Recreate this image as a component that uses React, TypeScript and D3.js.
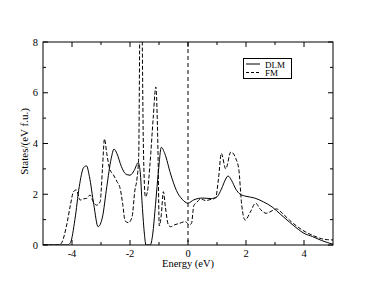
import React from "react";
import * as d3 from "d3";

// DLM density of states (solid)
const dlmEnergy = [-5, -4.15, -4.05, -3.9, -3.75, -3.6, -3.5, -3.4, -3.25, -3.1, -2.95, -2.8, -2.65, -2.55, -2.45, -2.3, -2.15, -2.0, -1.85, -1.72, -1.65, -1.58, -1.5, -1.45, -1.3, -1.22, -1.12, -1.02, -0.92, -0.8, -0.6, -0.4, -0.2, 0, 0.2, 0.5, 0.8, 1.0, 1.15, 1.3, 1.38, 1.5, 1.65, 1.8, 2.0, 2.3, 2.6, 2.9, 3.2, 3.5, 3.8, 4.0, 4.3, 4.6, 5.0];
const dlmStates = [0, 0, 0.1, 1.0, 2.3, 3.05, 3.12, 2.7, 1.6, 0.72, 1.1, 2.3, 3.4, 3.78, 3.6, 3.1, 2.8, 2.75, 2.95, 3.24, 2.9, 1.6, 0.4, 0, 0, 0.4, 1.6, 2.9, 3.85, 3.6, 2.8, 2.15, 1.8, 1.65, 1.78, 1.85, 1.83, 1.9, 2.2, 2.6, 2.72, 2.55, 2.2, 2.0, 1.92, 1.85, 1.7, 1.5, 1.2, 0.9, 0.62, 0.46, 0.33, 0.18, 0.03];

// FM density of states (dashed)
const fmEnergy = [-5, -4.45, -4.35, -4.2, -4.05, -3.95, -3.85, -3.72, -3.6, -3.49, -3.38, -3.27, -3.15, -3.03, -2.95, -2.88, -2.8, -2.7, -2.57, -2.45, -2.34, -2.25, -2.17, -2.05, -1.93, -1.83, -1.76, -1.7, -1.65, -1.6, -1.54, -1.47, -1.4, -1.31, -1.2, -1.11, -1.04, -0.99, -0.92, -0.85, -0.78, -0.68, -0.6, -0.45, -0.3, -0.1, 0.05, 0.12, 0.2, 0.3, 0.45, 0.6, 0.8, 0.95, 1.05, 1.15, 1.3, 1.48, 1.65, 1.75, 1.85, 1.97, 2.15, 2.33, 2.5, 2.7, 2.9, 3.05, 3.3, 3.5, 3.8, 4.0, 4.3, 4.6, 4.8, 5.0];
const fmStates = [0, 0, 0.1, 0.7, 1.6, 2.1, 2.17, 1.77, 1.82, 1.84, 1.97, 1.71, 1.57, 1.7, 3.0, 4.18, 3.6, 3.0, 2.76, 2.5, 2.23, 1.6, 0.95, 0.88, 1.1, 2.17, 2.6, 3.5, 9.5, 9.5, 4.0, 1.9, 2.1, 3.2, 5.0, 6.23, 4.0, 0.75, 1.2, 2.1, 1.5, 0.8, 0.72, 0.8, 0.85, 0.92, 0.8, 0.85, 1.55, 1.68, 1.82, 1.75, 1.8, 1.85, 2.6, 3.61, 3.0, 3.67, 3.4, 3.0, 1.6, 0.98, 1.3, 1.65, 1.4, 1.25, 1.35, 1.42, 1.2, 0.98, 0.7, 0.55, 0.38, 0.25, 0.21, 0.2];

const xMajor = [-4, -2, 0, 2, 4];
const xMinor = [-3, -1, 1, 3];
const yMajor = [0, 2, 4, 6, 8];
const yMinor = [1, 3, 5, 7];

const W = 374;
const H = 289;
const left = 43, right = 333, top = 42, bottom = 245;
const font = "'Liberation Serif', 'Times New Roman', serif";

export default function App() {
  const x = d3.scaleLinear().domain([-5, 5]).range([left, right]);
  const y = d3.scaleLinear().domain([0, 8]).range([bottom, top]);

  const line = d3
    .line<[number, number]>()
    .x((d) => x(d[0]))
    .y((d) => y(d[1]))
    .curve(d3.curveMonotoneX);

  const dlm = dlmEnergy.map((e, i) => [e, dlmStates[i]] as [number, number]);
  const fm = fmEnergy.map((e, i) => [e, fmStates[i]] as [number, number]);

  return (
    <svg width={W} height={H} style={{ position: "absolute", left: 0, top: 0, background: "#fff" }}>
      <defs>
        <clipPath id="plot">
          <rect x={left} y={top} width={right - left} height={bottom - top} />
        </clipPath>
      </defs>

      {/* ticks, inward on all four sides */}
      <g stroke="#000" strokeWidth={1}>
        {xMajor.map((t) => (
          <g key={"xM" + t}>
            <line x1={x(t)} x2={x(t)} y1={bottom} y2={bottom - 5} />
            <line x1={x(t)} x2={x(t)} y1={top} y2={top + 5} />
          </g>
        ))}
        {xMinor.map((t) => (
          <g key={"xm" + t}>
            <line x1={x(t)} x2={x(t)} y1={bottom} y2={bottom - 3} />
            <line x1={x(t)} x2={x(t)} y1={top} y2={top + 3} />
          </g>
        ))}
        {yMajor.map((t) => (
          <g key={"yM" + t}>
            <line x1={left} x2={left + 5} y1={y(t)} y2={y(t)} />
            <line x1={right} x2={right - 5} y1={y(t)} y2={y(t)} />
          </g>
        ))}
        {yMinor.map((t) => (
          <g key={"ym" + t}>
            <line x1={left} x2={left + 3} y1={y(t)} y2={y(t)} />
            <line x1={right} x2={right - 3} y1={y(t)} y2={y(t)} />
          </g>
        ))}
      </g>

      <g fontFamily={font} fontSize={10.5} fill="#000">
        {xMajor.map((t) => (
          <text key={"xl" + t} x={x(t)} y={bottom + 11.5} textAnchor="middle">
            {t}
          </text>
        ))}
        {yMajor.map((t) => (
          <text key={"yl" + t} x={left - 5} y={y(t) + 3.5} textAnchor="end">
            {t}
          </text>
        ))}
        <text x={(left + right) / 2} y={bottom + 22} textAnchor="middle">
          Energy (eV)
        </text>
        <text
          transform={`translate(${28},${(top + bottom) / 2 - 2}) rotate(-90)`}
          textAnchor="middle"
          fontSize={11}
        >
          States/(eV f.u.)
        </text>
      </g>

      <g clipPath="url(#plot)" fill="none" stroke="#000" strokeWidth={1}>
        <line x1={x(0)} x2={x(0)} y1={top} y2={bottom} strokeDasharray="4,3" />
        <path d={line(dlm) ?? ""} />
        <path d={line(fm) ?? ""} strokeDasharray="4,2" />
      </g>

      <rect x={left} y={top} width={right - left} height={bottom - top} fill="none" stroke="#000" strokeWidth={1} />

      {/* legend */}
      <g>
        <rect x={243.5} y={58.5} width={48} height={20} fill="#fff" stroke="#000" strokeWidth={1} />
        <line x1={246} x2={260} y1={64} y2={64} stroke="#000" strokeWidth={1} />
        <line x1={246} x2={260} y1={72.5} y2={72.5} stroke="#000" strokeWidth={1} strokeDasharray="3,2" />
        <text x={265} y={67.5} fontFamily={font} fontSize={9}>DLM</text>
        <text x={265} y={76} fontFamily={font} fontSize={9}>FM</text>
      </g>
    </svg>
  );
}
